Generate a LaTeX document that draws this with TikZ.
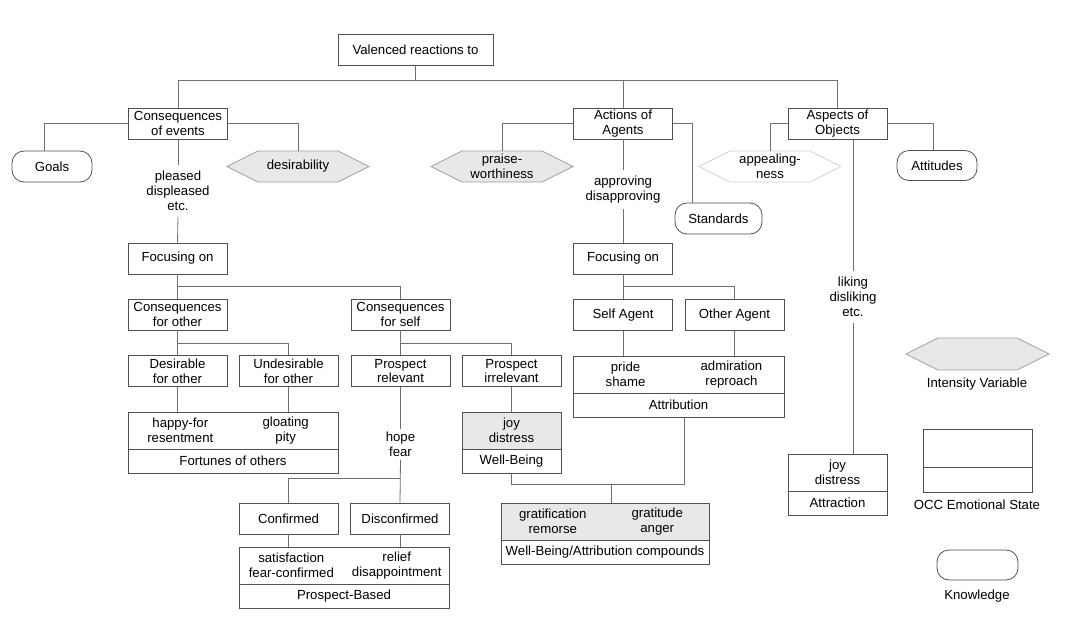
\documentclass[tikz,border=0pt]{standalone}
\usepackage{fontspec}
\setmainfont{Liberation Sans}
\usetikzlibrary{shapes.symbols,positioning,calc}
\definecolor{linegray}{HTML}{707070}
\definecolor{boxgray}{HTML}{505050}
\definecolor{shade}{HTML}{E8E8E8}
\tikzset{
    wire/.style={draw=linegray,line width=0.8pt},
    box/.style={draw=boxgray,line width=0.8pt,fill=white,minimum width=99,minimum height=31,align=center,inner sep=1pt},
    upper/.style={box,minimum height=37},
    lower/.style={box,minimum height=24},
    knowledge/.style={draw=boxgray,line width=0.8pt,rounded corners=12,minimum width=80,minimum height=31,inner sep=1pt},
    intensity/.style={signal,signal to=west and east,signal pointer angle=53,draw=gray!75,line width=0.8pt,fill=shade,minimum width=142,minimum height=31,align=center,inner sep=1pt},
    valence/.style={align=center,inner sep=6pt}
}

\begin{document}
\begin{tikzpicture}[x=1pt,y=-1pt,font=\fontsize{13.2}{14.8}\selectfont]
  \useasboundingbox (0,0) rectangle (1080,638);

  % Top level
  \node[box,minimum width=155] (valenced) at (415.5,49.5) {Valenced reactions to};
  \node[box] (events) at (178,123.5) {Consequences\\of events};
  \node[box] (agents) at (623,123.5) {Actions of\\Agents};
  \node[box] (objects) at (837.5,123.5) {Aspects of\\Objects};
  \coordinate (topbus) at (0,80);
  \draw[wire] (valenced.south) -- (valenced.south |- topbus);
  \draw[wire] (events.north) |- (objects.north |- topbus) -- (objects.north);
  \draw[wire] (agents.north) -- (agents.north |- topbus);

  % Consequences of events
  \node[knowledge] (goals) at (52,166.5) {Goals};
  \node[intensity] (desirability) at (298,166.5) {desirability};
  \node[valence] (pleased) at (178,191) {pleased\\displeased\\etc.};
  \draw[wire] (events.west) -| ($(goals.north)+(-8,0)$);
  \draw[wire] (events.east) -| (desirability.north);
  \draw[wire] (events.south) -- (pleased.north);

  \node[box] (focusl) at (177.5,258.5) {Focusing on};
  \draw[wire] (pleased.south) -- (focusl.north);
  \node[box] (conother) at (177.5,314.5) {Consequences\\for other};
  \node[box] (conself) at (400.5,314.5) {Consequences\\for self};
  \draw[wire] (focusl.south) -- (conother.north);
  \draw[wire] (focusl.south) ++(0,12) -| (conself.north);

  \node[box] (desother) at (177.5,371) {Desirable\\for other};
  \node[box] (undesother) at (288.5,371) {Undesirable\\for other};
  \node[box] (relevant) at (400.5,371) {Prospect\\relevant};
  \node[box] (irrelevant) at (511.5,371) {Prospect\\irrelevant};
  \draw[wire] (conother.south) -- (desother.north);
  \draw[wire] (conother.south) ++(0,13) -| (undesother.north);
  \draw[wire] (conself.south) -- (relevant.north);
  \draw[wire] (conself.south) ++(0,13) -| (irrelevant.north);

  % Fortunes of others
  \node[upper,minimum width=210] (fortunestop) at (233,430.5) {};
  \node[lower,minimum width=210,below=-0.8pt of fortunestop] (fortunes) {Fortunes of others};
  \node[align=center] (happyfor) at ($(fortunestop.center)!0.5!(fortunestop.west)$) {happy-for\\resentment};
  \node[align=center] (gloating) at ($(fortunestop.center)!0.5!(fortunestop.east)$) {gloating\\pity};
  \draw[wire] (desother.south) -- (desother.south |- fortunestop.north);
  \draw[wire] (undesother.south) -- (undesother.south |- fortunestop.north);

  % Well-Being
  \node[upper,fill=shade] (wellbeingtop) at (511.5,430.5) {joy\\distress};
  \node[lower,below=-0.8pt of wellbeingtop] (wellbeing) {Well-Being};
  \draw[wire] (irrelevant.south) -- (wellbeingtop.north);

  % Prospect-Based
  \node[valence,inner sep=3pt] (hope) at (400.5,444.5) {hope\\fear};
  \draw[wire] (relevant.south) -- (hope.north);
  \node[box] (confirmed) at (288.5,518.5) {Confirmed};
  \node[box] (disconfirmed) at (400,518.5) {Disconfirmed};
  \draw[wire] (hope.south) -- (disconfirmed.north);
  \draw[wire] (disconfirmed.north) ++(0,-24) -| (confirmed.north);
  \node[upper,minimum width=210] (prospecttop) at (344,565.5) {};
  \node[lower,minimum width=210,below=-0.8pt of prospecttop] (prospect) {Prospect-Based};
  \node[align=center] (satisfaction) at ($(prospecttop.center)!0.5!(prospecttop.west)$) {satisfaction\\fear-confirmed};
  \node[align=center] (relief) at ($(prospecttop.center)!0.5!(prospecttop.east)$) {relief\\disappointment};
  \draw[wire] (confirmed.south) -- (confirmed.south |- prospecttop.north);
  \draw[wire] (disconfirmed.south) -- (disconfirmed.south |- prospecttop.north);

  % Actions of agents
  \node[intensity] (praise) at (502,166.5) {praise-\\worthiness};
  \node[valence] (approving) at (623,189.5) {approving\\disapproving};
  \node[knowledge,minimum width=87] (standards) at (718.5,218.5) {Standards};
  \draw[wire] (agents.west) -| (praise.north);
  \draw[wire] (agents.east) -| ($(standards.north)+(-26,0)$);
  \draw[wire] (agents.south) -- (approving.north);

  \node[box] (focusr) at (623,258.5) {Focusing on};
  \draw[wire] (approving.south) -- (focusr.north);
  \node[box] (selfagent) at (623,315) {Self Agent};
  \node[box] (otheragent) at (734.5,315) {Other Agent};
  \draw[wire] (focusr.south) -- (selfagent.north);
  \draw[wire] (focusr.south) ++(0,12) -| (otheragent.north);

  % Attribution
  \node[upper,minimum width=211] (attribtop) at (678.5,374.5) {};
  \node[lower,minimum width=211,below=-0.8pt of attribtop] (attrib) {Attribution};
  \node[align=center] (pride) at ($(attribtop.center)!0.5!(attribtop.west)$) {pride\\shame};
  \node[align=center] (admiration) at ($(attribtop.center)!0.5!(attribtop.east)$) {admiration\\reproach};
  \draw[wire] (selfagent.south) -- (selfagent.south |- attribtop.north);
  \draw[wire] (otheragent.south) -- (otheragent.south |- attribtop.north);

  % Compounds
  \node[upper,minimum width=208,fill=shade] (compoundstop) at (605,521.5) {};
  \node[lower,minimum width=208,below=-0.8pt of compoundstop] (compounds) {Well-Being/Attribution compounds};
  \node[align=center] (gratification) at ($(compoundstop.center)!0.5!(compoundstop.west)$) {gratification\\remorse};
  \node[align=center] (gratitude) at ($(compoundstop.center)!0.5!(compoundstop.east)$) {gratitude\\anger};
  \coordinate (compbus) at (0,484);
  \draw[wire] (wellbeing.south) |- ($(attrib.south |- compbus)+(6,0)$) -- ($(attrib.south)+(6,0)$);
  \draw[wire] ($(compoundstop.north)+(6,0)$) -- ($(compoundstop.north |- compbus)+(6,0)$);

  % Aspects of objects
  \node[intensity,fill=white,draw=gray!35] (appealing) at (770,166.5) {appealing-\\ness};
  \node[knowledge,minimum height=30] (attitudes) at (937,165.5) {Attitudes};
  \node[valence] (liking) at (853,297) {liking\\disliking\\etc.};
  \draw[wire] (objects.west) -| (appealing.north);
  \draw[wire] (objects.east) -| ($(attitudes.north)+(-4,0)$);
  \draw[wire] (objects.south -| liking) -- (liking.north);

  \node[upper] (attractiontop) at (837.5,472.5) {joy\\distress};
  \node[lower,below=-0.8pt of attractiontop] (attraction) {Attraction};
  \draw[wire] (liking.south) -- (attractiontop.north -| liking);

  % Legend
  \node[intensity,minimum width=143,minimum height=32] (legendhex) at (977.5,354) {};
  \node (intensitytext) at (977,384) {Intensity Variable};
  \node[upper,minimum width=109,minimum height=38] (legendtop) at (977.5,448) {};
  \node[lower,minimum width=109,minimum height=25,below=-0.8pt of legendtop] (legendbot) {};
  \node (occtext) at (977,505) {OCC Emotional State};
  \node[knowledge,minimum width=81,minimum height=30] (legendknow) at (977.5,565) {};
  \node (knowtext) at (977,596) {Knowledge};
\end{tikzpicture}
\end{document}
